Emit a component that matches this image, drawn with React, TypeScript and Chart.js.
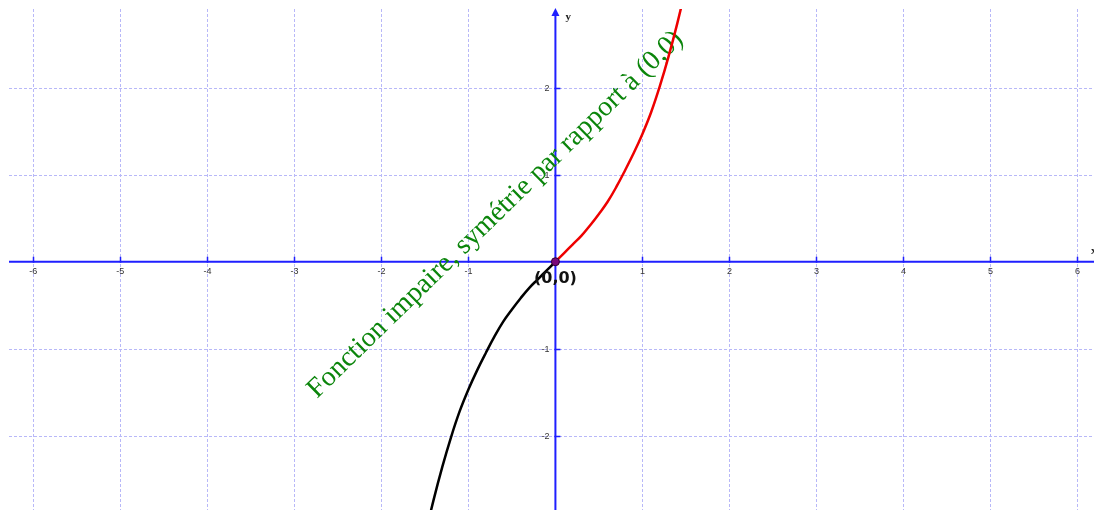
import { useEffect, useRef } from "react";
import { Chart, registerables } from "chart.js";

Chart.register(...registerables);

// Visible window of the plane
const xBounds = [-6.28, 6.19];
const yBounds = [-2.857, 2.908];

// Graduations shown on the axes (grid lines go through every one of them)
const xTickValues = [-6, -5, -4, -3, -2, -1, 1, 2, 3, 4, 5, 6];
const yTickValues = [-2, -1, 1, 2];

// Branch for x >= 0 (red)
const rightX = [0, 0.1, 0.2, 0.3, 0.4, 0.5, 0.6, 0.7, 0.8, 0.9, 1.0, 1.1, 1.2, 1.3, 1.4, 1.5];
const rightY = [0, 0.1, 0.2, 0.3, 0.42, 0.55, 0.69, 0.86, 1.05, 1.25, 1.47, 1.72, 2.02, 2.36, 2.74, 3.16];

// Branch for x <= 0 (black), image of the red branch by the point symmetry
const leftX = [-1.5, -1.4, -1.3, -1.2, -1.1, -1.0, -0.9, -0.8, -0.7, -0.6, -0.5, -0.4, -0.3, -0.2, -0.1, 0];
const leftY = [-3.16, -2.74, -2.36, -2.02, -1.72, -1.47, -1.25, -1.05, -0.86, -0.69, -0.55, -0.42, -0.3, -0.2, -0.1, 0];

// Centre of symmetry
const originX = [0];
const originY = [0];

const caption = "Fonction impaire, symétrie par rapport à (0,0)";
const captionAnchor = [-2.74, -1.58];
const originLabel = "(0,0)";

const AXIS = "#1f1fff";
const GRID = "#b8b8f8";

const toPoints = (xs: number[], ys: number[]) => xs.map((x, i) => ({ x, y: ys[i] }));

const axesPlugin = {
  id: "planeAxes",
  beforeDatasetsDraw(chart: any) {
    const { ctx, chartArea, scales } = chart;
    const xs = scales.x;
    const ys = scales.y;
    const x0 = xs.getPixelForValue(0);
    const y0 = ys.getPixelForValue(0);
    ctx.save();

    // dashed grid
    ctx.strokeStyle = GRID;
    ctx.lineWidth = 1;
    ctx.setLineDash([3, 2]);
    ctx.beginPath();
    xTickValues.forEach((v) => {
      const px = Math.round(xs.getPixelForValue(v)) + 0.5;
      ctx.moveTo(px, chartArea.top);
      ctx.lineTo(px, chartArea.bottom);
    });
    yTickValues.forEach((v) => {
      const py = Math.round(ys.getPixelForValue(v)) + 0.5;
      ctx.moveTo(chartArea.left, py);
      ctx.lineTo(chartArea.right, py);
    });
    ctx.stroke();
    ctx.setLineDash([]);

    // axes
    ctx.strokeStyle = AXIS;
    ctx.lineWidth = 2;
    ctx.beginPath();
    ctx.moveTo(chartArea.left, y0);
    ctx.lineTo(chartArea.right, y0);
    ctx.moveTo(x0, chartArea.top + 4);
    ctx.lineTo(x0, chartArea.bottom);
    ctx.stroke();

    // arrow head of the y axis
    ctx.fillStyle = AXIS;
    ctx.beginPath();
    ctx.moveTo(x0, chartArea.top - 1);
    ctx.lineTo(x0 - 4, chartArea.top + 7);
    ctx.lineTo(x0 + 4, chartArea.top + 7);
    ctx.closePath();
    ctx.fill();

    // tick marks
    ctx.lineWidth = 1.5;
    ctx.beginPath();
    xTickValues.forEach((v) => {
      const px = Math.round(xs.getPixelForValue(v)) + 0.5;
      ctx.moveTo(px, y0 - 5);
      ctx.lineTo(px, y0 + 1);
    });
    yTickValues.forEach((v) => {
      const py = Math.round(ys.getPixelForValue(v)) + 0.5;
      ctx.moveTo(x0 - 1, py);
      ctx.lineTo(x0 + 5, py);
    });
    ctx.stroke();

    // tick labels
    ctx.fillStyle = "#333";
    ctx.font = "9px 'Liberation Sans', sans-serif";
    ctx.textAlign = "center";
    ctx.textBaseline = "middle";
    xTickValues.forEach((v) => {
      ctx.fillText(String(v), xs.getPixelForValue(v), y0 + 10);
    });
    ctx.textAlign = "right";
    yTickValues.forEach((v) => {
      ctx.fillText(String(v), x0 - 6, ys.getPixelForValue(v) + 1);
    });

    // axis names
    ctx.fillStyle = "#222";
    ctx.font = "bold 11px 'Liberation Serif', serif";
    ctx.textAlign = "left";
    ctx.fillText("y", x0 + 10, chartArea.top + 8);
    ctx.fillText("x", chartArea.right - 3, y0 - 11);

    // caption along the first bisector
    ctx.translate(xs.getPixelForValue(captionAnchor[0]), ys.getPixelForValue(captionAnchor[1]));
    ctx.rotate((-44.3 * Math.PI) / 180);
    ctx.fillStyle = "#0b850b";
    ctx.font = "28px 'Liberation Serif', serif";
    ctx.textAlign = "left";
    ctx.textBaseline = "alphabetic";
    ctx.fillText(caption, 0, 0);
    ctx.restore();
  },
  afterDatasetsDraw(chart: any) {
    const { ctx, scales } = chart;
    const px = scales.x.getPixelForValue(originX[0]);
    const py = scales.y.getPixelForValue(originY[0]);
    ctx.save();
    ctx.fillStyle = "#111";
    ctx.font = "bold 16px 'DejaVu Sans', sans-serif";
    ctx.textAlign = "center";
    ctx.textBaseline = "middle";
    ctx.fillText(originLabel, px, py + 17);
    ctx.restore();
  },
};

export default function App() {
  const canvasRef = useRef<HTMLCanvasElement | null>(null);

  useEffect(() => {
    const canvas = canvasRef.current;
    if (!canvas) return;
    const chart = new Chart(canvas, {
      type: "scatter",
      data: {
        datasets: [
          {
            data: toPoints(originX, originY),
            pointRadius: 4,
            pointBackgroundColor: "#7a0a7a",
            pointBorderColor: "#300030",
            pointBorderWidth: 1,
            showLine: false,
            order: 0,
          },
          {
            data: toPoints(rightX, rightY),
            showLine: true,
            borderColor: "#ee0000",
            borderWidth: 2.5,
            pointRadius: 0,
            tension: 0.4,
            order: 1,
          },
          {
            data: toPoints(leftX, leftY),
            showLine: true,
            borderColor: "#000000",
            borderWidth: 2.5,
            pointRadius: 0,
            tension: 0.4,
            order: 1,
          },
        ],
      },
      options: {
        animation: false,
        responsive: false,
        layout: { autoPadding: false, padding: { left: 9, top: 9, right: 0, bottom: 0 } },
        plugins: { legend: { display: false }, tooltip: { enabled: false } },
        scales: {
          x: { type: "linear", display: false, min: xBounds[0], max: xBounds[1] },
          y: { type: "linear", display: false, min: yBounds[0], max: yBounds[1] },
        },
      },
      plugins: [axesPlugin],
    });
    return () => chart.destroy();
  }, []);

  return (
    <div style={{ position: "absolute", left: 0, top: 0, width: 1094, height: 510 }}>
      <canvas ref={canvasRef} width={1094} height={510} />
    </div>
  );
}
